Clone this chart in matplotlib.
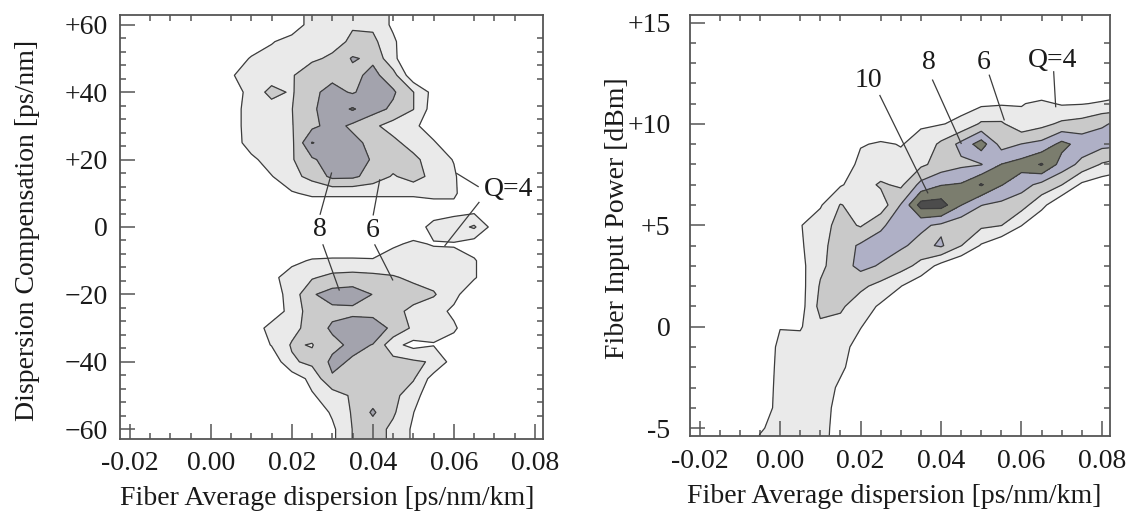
import matplotlib.pyplot as plt
import numpy as np
from matplotlib.ticker import MultipleLocator

plt.rcParams['font.family'] = ['Liberation Serif', 'DejaVu Serif']

# ---- left panel: Q over (fiber avg dispersion, dispersion compensation) ----
left_x = [0.000, 0.005, 0.010, 0.015, 0.020, 0.025, 0.030, 0.035, 0.040,
          0.045, 0.050, 0.055, 0.060, 0.065, 0.070, 0.075, 0.080]
left_y = [65, 60, 55, 50, 45, 40, 35, 30, 25, 20, 15, 10, 5, 0,
          -5, -10, -15, -20, -25, -30, -35, -40, -45, -50, -55, -60, -65]
left_q = [
    [2, 2, 2, 2, 2.5, 5, 5.2, 5.8, 5.6, 3.6, 2, 2, 2, 2, 2, 2, 2],
    [2, 2, 2, 2, 2.5, 5, 5.2, 5.8, 5.6, 3.6, 2, 2, 2, 2, 2, 2, 2],
    [2, 2, 2, 3.8, 5, 5.2, 5.2, 6.4, 6.5, 4.4, 2, 2, 2, 2, 2, 2, 2],
    [2, 2, 4.3, 5, 5.6, 5.6, 6.4, 8.2, 7.6, 4.5, 2, 2, 2, 2, 2, 2, 2],
    [2, 3.8, 5, 5.2, 5.8, 7.4, 7.5, 7.4, 8.6, 6.8, 2.5, 2, 2, 2, 2, 2, 2],
    [2, 2.5, 5, 6.5, 5.8, 7.6, 8.6, 7.8, 9, 8.3, 6.05, 3.3, 2, 2, 2, 2, 2],
    [2, 3, 5, 5.3, 5.95, 7.7, 9, 10.2, 8.8, 7.6, 6.05, 3, 2, 2, 2, 2, 2],
    [2, 3, 5, 5.3, 5.9, 7.5, 8.8, 7.6, 6.4, 5.2, 4.6, 2.5, 2, 2, 2, 2, 2],
    [2, 2.8, 5, 5.3, 5.6, 10.1, 9, 8.6, 7.4, 6.5, 5.2, 4.3, 2, 2, 2, 2, 2],
    [2, 2, 3.5, 5, 5.8, 7.7, 9, 9, 7.8, 7, 6.5, 5, 3.9, 2, 2, 2, 2],
    [2, 2, 2, 3.9, 5.4, 6.6, 8.5, 8.4, 7.2, 5.8, 6.8, 5.4, 4.3, 2, 2, 2, 2],
    [2, 2, 2, 2.5, 3.8, 4.4, 4.4, 4.4, 4.4, 4.4, 4.4, 4.4, 4.3, 2.5, 2, 2, 2],
    [2, 2, 2, 2, 2.2, 2.4, 2.4, 2.4, 2.4, 2.4, 2.4, 3.2, 3.4, 3.4, 2, 2, 2],
    [2, 2, 2, 2, 2, 2, 2, 2, 2, 2, 3.2, 4.5, 5, 6.3, 3, 2, 2],
    [2, 2, 2, 2, 2, 2.2, 2.4, 2.4, 2.6, 3.8, 4.2, 3.9, 3.9, 3, 2, 2, 2],
    [2, 2, 2, 2, 3.5, 4.2, 4.3, 4.3, 4.2, 4.6, 4.8, 4.6, 4.4, 4.2, 2.5, 2, 2],
    [2, 2, 2, 3.5, 4.9, 5.8, 6.6, 6.8, 6.6, 6.2, 5.6, 5.2, 5, 4.2, 2.5, 2, 2],
    [2, 2, 2, 3, 4.8, 7.8, 8.8, 9, 7.95, 7, 6.8, 6.2, 4.6, 2.5, 2, 2, 2],
    [2, 2, 2, 3, 4.6, 7.2, 7.5, 7.5, 7.4, 6.6, 5.5, 4.8, 3.6, 2, 2, 2, 2],
    [2, 2, 3, 4.6, 5.3, 6.9, 8.3, 9.1, 9, 7.6, 5.6, 4.6, 4.3, 2.5, 2, 2, 2],
    [2, 2, 2.5, 4.1, 6.2, 5.9, 7.5, 8.4, 7.95, 4.6, 3.4, 3.9, 3.2, 2, 2, 2, 2],
    [2, 2, 2, 2.5, 5.7, 6.5, 8.4, 7.8, 7, 6.7, 6.3, 5.8, 3, 2, 2, 2, 2],
    [2, 2, 2, 2, 2.8, 4.6, 7.8, 7.2, 7, 6.9, 6.2, 3.1, 2, 2, 2, 2, 2],
    [2, 2, 2, 2, 2, 3.8, 5, 6.3, 7, 6.6, 4.8, 2.5, 2, 2, 2, 2, 2],
    [2, 2, 2, 2, 2, 2.5, 4.3, 6.2, 8.3, 6.3, 4.05, 2, 2, 2, 2, 2, 2],
    [2, 2, 2, 2, 2, 2, 3.6, 6.05, 7, 5.5, 3.7, 2, 2, 2, 2, 2, 2],
    [2, 2, 2, 2, 2, 2, 3.6, 6.05, 7, 5.5, 3.7, 2, 2, 2, 2, 2, 2],
]

# ---- right panel: Q over (fiber avg dispersion, fiber input power) ----
right_x = [-0.010, -0.005, 0.000, 0.005, 0.010, 0.015, 0.020, 0.025, 0.030, 0.035,
           0.040, 0.045, 0.050, 0.055, 0.060, 0.065, 0.070, 0.075, 0.080, 0.085]
right_y = list(range(-6, 14))
# one list per dispersion value, power from -6 to 13 dBm
right_q_by_x = [
    [2] * 20,
    [5, 3.6, 2, 2, 2, 2, 2, 2, 2, 2, 2, 2, 2, 2, 2, 2, 2, 2, 2, 2],
    [5.4, 5.3, 5.2, 5.0, 4.8, 4.6, 3.9, 2, 2, 2, 2, 2, 2, 2, 2, 2, 2, 2, 2, 2],
    [5.6, 5.6, 5.5, 5.4, 5.2, 4.8, 3.8, 3.2, 3.2, 3.4, 3.7, 3.9, 2.5, 2, 2, 2, 2, 2, 2, 2],
    [5.4, 5.3, 5.2, 5.2, 5.2, 5.3, 5.6, 6.6, 6.2, 5.6, 5.4, 5.0, 3.8, 2, 2, 2, 2, 2, 2, 2],
    [2, 2.5, 3.0, 3.6, 4.4, 4.8, 5.4, 6.3, 6.8, 7.0, 7.0, 6.8, 6.1, 3.8, 2, 2, 2, 2, 2, 2],
    [2, 2, 2, 2.3, 2.8, 3.1, 4.1, 5.0, 6.4, 8.6, 8.3, 5.8, 5.2, 5.0, 4.8, 3.8, 2, 2, 2, 2],
    [2, 2, 2, 2, 2, 2, 2.6, 3.7, 5.4, 7.8, 9.0, 7.6, 4.8, 6.3, 4.5, 4.3, 2, 2, 2, 2],
    [2, 2, 2, 2, 2, 2, 2, 2.5, 4.05, 6.8, 8.3, 9.2, 8.1, 5.6, 4.6, 3.9, 2, 2, 2, 2],
    [2, 2, 2, 2, 2, 2, 2, 2, 2.6, 5.4, 7.4, 8.4, 12.8, 8.6, 5.6, 4.6, 3.8, 2, 2, 2],
    [2, 2, 2, 2, 2, 2, 2, 2, 2, 3.3, 8.3, 7.6, 12.9, 9.9, 6.8, 6.4, 3.9, 2, 2, 2],
    [2, 2, 2, 2, 2, 2, 2, 2, 2, 2, 6.05, 6.6, 10.05, 10.2, 7.6, 8.6, 4.4, 3.4, 2, 2],
    [2, 2, 2, 2, 2, 2, 2, 2, 2, 2, 3.8, 6.4, 8.05, 12.2, 7.9, 11.0, 6.3, 3.6, 2, 2],
    [2, 2, 2, 2, 2, 2, 2, 2, 2, 2, 2.4, 6.05, 7.5, 10.1, 10.05, 7.2, 6.3, 3.8, 2, 2],
    [2, 2, 2, 2, 2, 2, 2, 2, 2, 2, 2, 4.05, 6.8, 8.8, 10.8, 8.05, 4.6, 3.9, 2, 2],
    [2, 2, 2, 2, 2, 2, 2, 2, 2, 2, 2, 2.2, 4.6, 7.4, 12.2, 8.6, 5.4, 4.4, 2, 2],
    [2, 2, 2, 2, 2, 2, 2, 2, 2, 2, 2, 2, 2.2, 6.05, 9.2, 10.6, 6.4, 3.8, 2, 2],
    [2, 2, 2, 2, 2, 2, 2, 2, 2, 2, 2, 2, 2, 3.6, 7.4, 9.2, 6.8, 3.9, 2, 2],
    [2, 2, 2, 2, 2, 2, 2, 2, 2, 2, 2, 2, 2, 2.8, 5.8, 8.6, 7.85, 4.2, 2.4, 2],
    [2, 2, 2, 2, 2, 2, 2, 2, 2, 2, 2, 2, 2, 2.4, 5.0, 8.4, 8.3, 4.6, 2.6, 2],
]

q_levels = [4, 6, 8, 10, 12, 100]
left_fill = ['#eaeaea', '#cbcbcb', '#a3a3ad', '#6e6e74', '#505050']
right_fill = ['#eaeaea', '#c9c9c9', '#afb0c6', '#7b7d6e', '#4c4c4c']

x_ticks = [-0.02, 0.00, 0.02, 0.04, 0.06, 0.08]
x_ticklabels = ['-0.02', '0.00', '0.02', '0.04', '0.06', '0.08']
left_yticks = [-60, -40, -20, 0, 20, 40, 60]
left_yticklabels = ['\u221260', '\u221240', '\u221220', '0', '+20', '+40', '+60']
right_yticks = [-5, 0, 5, 10, 15]
right_yticklabels = ['-5', '0', '+5', '+10', '+15']

# contour labels and their leader lines
left_labels = [('8', 0.0270, -0.6), ('6', 0.0400, -0.9), ('Q=4', 0.0735, 11.0)]
left_leaders = [((0.0270, 3.8), (0.0298, 16.0)), ((0.0277, -5.3), (0.0317, -18.7)),
                ((0.0401, 3.6), (0.0417, 14.0)), ((0.0405, -5.3), (0.0449, -15.7)),
                ((0.0660, 12.0), (0.0607, 15.9)), ((0.0662, 7.3), (0.0578, -5.5))]
right_labels = [('10', 0.0220, 12.16), ('8', 0.0369, 13.03), ('6', 0.0507, 13.05),
                ('Q=4', 0.0676, 13.15)]
right_leaders = [((0.0248, 11.4), (0.0367, 6.6)), ((0.0379, 12.16), (0.0450, 9.04)),
                 ((0.0520, 12.4), (0.0557, 10.2)), ((0.0680, 12.57), (0.0685, 10.85))]

W, H = 1134, 515
fig = plt.figure(figsize=(W / 100, H / 100), dpi=100)
ax1 = fig.add_axes([120 / W, 76 / H, 423 / W, 424 / H])
ax2 = fig.add_axes([690 / W, 79 / H, 420 / W, 421 / H])

line_c = '#3c3c3c'
txt_c = '#1a1a1a'
fs = 20


def draw(ax, xs, ys, q, fills, labels, leaders):
    ax.contourf(xs, ys, q, levels=q_levels, colors=fills)
    ax.contour(xs, ys, q, levels=q_levels[:-1], colors=line_c, linewidths=0.9)
    for (x0, y0), (x1, y1) in leaders:
        ax.plot([x0, x1], [y0, y1], color=line_c, lw=0.9)
    for s, x, y in labels:
        ax.text(x, y, s, ha='center', va='center', fontsize=fs, color=txt_c)
    ax.set_xlim(-0.0224, 0.0820)
    ax.set_xticks(x_ticks)
    ax.set_xticklabels(x_ticklabels)
    ax.xaxis.set_minor_locator(MultipleLocator(0.005))
    for sp in ax.spines.values():
        sp.set_color('#555555')
        sp.set_linewidth(1.3)
    ax.tick_params(which='both', direction='in', colors='#555555',
                   labelcolor=txt_c, labelsize=fs, width=1.1,
                   top=True, right=True)
    ax.tick_params(which='major', length=11, top=False, right=False)
    ax.tick_params(which='minor', length=4.5)
    ax.tick_params(axis='x', which='major', pad=9)
    ax.set_xlabel('Fiber Average dispersion [ps/nm/km]', fontsize=fs, color=txt_c)


lq = np.array(left_q)
draw(ax1, left_x, left_y, lq, left_fill, left_labels, left_leaders)
ax1.set_ylim(-62.9, 62.9)
ax1.set_yticks(left_yticks)
ax1.set_yticklabels(left_yticklabels)
ax1.yaxis.set_minor_locator(MultipleLocator(4))
ax1.tick_params(axis='y', which='major', pad=9)
ax1.set_ylabel('Dispersion Compensation [ps/nm]', fontsize=fs, color=txt_c)
ax1.yaxis.set_label_coords(-0.190, 0.493)
ax1.xaxis.set_label_coords(0.49, -0.112)

rq = np.array(right_q_by_x).T
draw(ax2, right_x, right_y, rq, right_fill, right_labels, right_leaders)
ax2.set_ylim(-5.39, 15.37)
ax2.set_yticks(right_yticks)
ax2.set_yticklabels(right_yticklabels)
ax2.yaxis.set_minor_locator(MultipleLocator(1))
ax2.tick_params(axis='y', which='major', pad=14)
ax2.set_ylabel('Fiber Input Power [dBm]', fontsize=fs, color=txt_c)
ax2.yaxis.set_label_coords(-0.143, 0.518)
ax2.xaxis.set_label_coords(0.486, -0.115)

fig.savefig('out.png', dpi=100)
